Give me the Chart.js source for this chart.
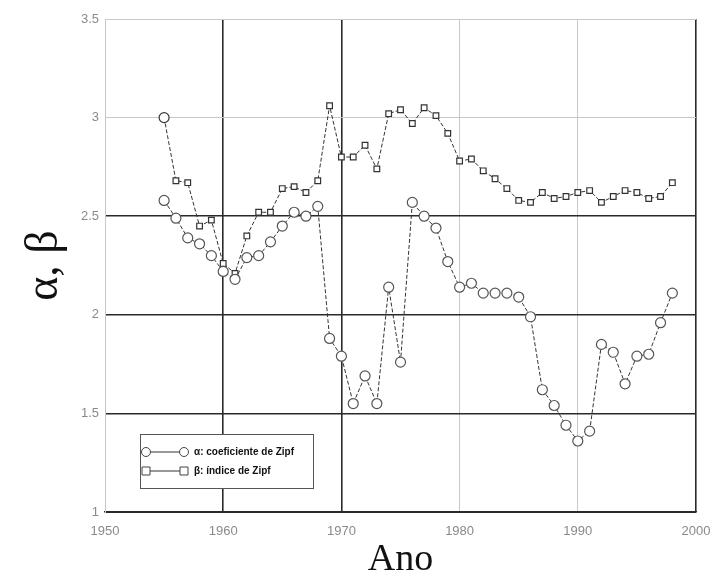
<!DOCTYPE html>
<html lang="pt">
<head>
<meta charset="utf-8">
<title>α, β por ano</title>
<script src="https://cdn.jsdelivr.net/npm/chart.js@4/dist/chart.umd.min.js"></script>
<style>
  html, body { margin: 0; padding: 0; background: #fff; }
  #wrap { width: 723px; height: 579px; position: relative; }
</style>
</head>
<body>
<div id="wrap"><canvas id="zipfChart"></canvas></div>
<script>
// anos e valores de cada série
const years = [1955, 1956, 1957, 1958, 1959, 1960, 1961, 1962, 1963, 1964,
               1965, 1966, 1967, 1968, 1969, 1970, 1971, 1972, 1973, 1974,
               1975, 1976, 1977, 1978, 1979, 1980, 1981, 1982, 1983, 1984,
               1985, 1986, 1987, 1988, 1989, 1990, 1991, 1992, 1993, 1994,
               1995, 1996, 1997, 1998];
const alphaValues = [2.58, 2.49, 2.39, 2.36, 2.30, 2.22, 2.18, 2.29, 2.30, 2.37,
                     2.45, 2.52, 2.50, 2.55, 1.88, 1.79, 1.55, 1.69, 1.55, 2.14,
                     1.76, 2.57, 2.50, 2.44, 2.27, 2.14, 2.16, 2.11, 2.11, 2.11,
                     2.09, 1.99, 1.62, 1.54, 1.44, 1.36, 1.41, 1.85, 1.81, 1.65,
                     1.79, 1.80, 1.96, 2.11];
const betaValues = [3.00, 2.68, 2.67, 2.45, 2.48, 2.26, 2.21, 2.40, 2.52, 2.52,
                    2.64, 2.65, 2.62, 2.68, 3.06, 2.80, 2.80, 2.86, 2.74, 3.02,
                    3.04, 2.97, 3.05, 3.01, 2.92, 2.78, 2.79, 2.73, 2.69, 2.64,
                    2.58, 2.57, 2.62, 2.59, 2.60, 2.62, 2.63, 2.57, 2.60, 2.63,
                    2.62, 2.59, 2.60, 2.67];
const seriesLabels = ["α: coeficiente de Zipf", "β: índice de Zipf"];
const xTicks = [1950, 1960, 1970, 1980, 1990, 2000];
const yTicks = [1, 1.5, 2, 2.5, 3, 3.5];

const DARK = '#2a2a2a';
const LIGHT = '#c8c8c8';

// legenda desenhada dentro da área do gráfico
const boxLegend = {
    id: 'boxLegend',
    afterDraw(chart) {
        const ctx = chart.ctx;
        const x0 = 140, y0 = 434, w = 173, h = 54;
        ctx.save();
        ctx.fillStyle = '#fff';
        ctx.fillRect(x0, y0, w, h);
        ctx.strokeStyle = '#555';
        ctx.lineWidth = 1;
        ctx.strokeRect(x0 + 0.5, y0 + 0.5, w, h);

        chart.data.datasets.forEach((ds, i) => {
            const y = y0 + 18 + i * 19;
            ctx.strokeStyle = '#333';
            ctx.lineWidth = 1;
            ctx.beginPath();
            ctx.moveTo(x0 + 6, y);
            ctx.lineTo(x0 + 44, y);
            ctx.stroke();
            [x0 + 6, x0 + 44].forEach(px => {
                ctx.fillStyle = '#fff';
                ctx.strokeStyle = '#444';
                ctx.beginPath();
                if (i === 0) {
                    ctx.arc(px, y, 4.5, 0, Math.PI * 2);
                } else {
                    ctx.rect(px - 4, y - 4, 8, 8);
                }
                ctx.fill();
                ctx.stroke();
            });
            ctx.fillStyle = '#111';
            ctx.font = 'bold 10px "Liberation Sans", Arial, sans-serif';
            ctx.textBaseline = 'middle';
            ctx.textAlign = 'left';
            ctx.fillText(ds.label, x0 + 54, y);
        });
        ctx.restore();
    }
};

document.addEventListener("DOMContentLoaded", () => {
    const ctx = document.getElementById('zipfChart').getContext('2d');

    const alphaPoints = years.map((yr, i) => ({ x: yr, y: alphaValues[i] }));
    const betaPoints = years.map((yr, i) => ({ x: yr, y: betaValues[i] }));

    const tickFont = { family: '"Liberation Sans", Arial, sans-serif', size: 13 };

    new Chart(ctx, {
        type: 'line',
        data: {
            datasets: [{
                label: seriesLabels[0],
                data: alphaPoints,
                borderColor: '#333',
                borderWidth: 1,
                borderDash: [4, 2],
                pointStyle: 'circle',
                pointRadius: 5,
                pointBackgroundColor: '#fff',
                pointBorderColor: '#555',
                pointBorderWidth: 1.2,
                tension: 0
            }, {
                label: seriesLabels[1],
                data: betaPoints,
                borderColor: '#333',
                borderWidth: 1,
                borderDash: [4, 2],
                // o primeiro ponto da série beta aparece como círculo
                pointStyle: c => (c.dataIndex === 0 ? 'circle' : 'rect'),
                pointRadius: c => (c.dataIndex === 0 ? 5 : 4),
                pointBackgroundColor: '#fff',
                pointBorderColor: '#333',
                pointBorderWidth: 1.2,
                tension: 0
            }]
        },
        options: {
            responsive: true,
            maintainAspectRatio: false,
            animation: false,
            layout: { padding: { top: 19, right: 27, left: 0, bottom: 0 } },
            plugins: {
                legend: { display: false },
                tooltip: { enabled: false }
            },
            scales: {
                x: {
                    type: 'linear',
                    min: 1950,
                    max: 2000,
                    afterBuildTicks: s => { s.ticks = xTicks.map(v => ({ value: v })); },
                    afterFit: s => { s.height = 67; },
                    grid: {
                        drawTicks: false,
                        color: c => (c.tick && (c.tick.value === 1960 || c.tick.value === 1970 || c.tick.value === 2000) ? DARK : LIGHT),
                        lineWidth: c => (c.tick && (c.tick.value === 1960 || c.tick.value === 1970 || c.tick.value === 2000) ? 1.6 : 1)
                    },
                    border: { color: DARK, width: 1.6 },
                    ticks: {
                        color: '#8a8a8a',
                        font: tickFont,
                        padding: 12,
                        callback: v => String(v)
                    },
                    title: {
                        display: true,
                        text: 'Ano',
                        color: '#111',
                        font: { family: '"Liberation Serif", "Times New Roman", serif', size: 38, lineHeight: 1 },
                        padding: { top: 0, bottom: 0 }
                    }
                },
                y: {
                    type: 'linear',
                    min: 1,
                    max: 3.5,
                    afterBuildTicks: s => { s.ticks = yTicks.map(v => ({ value: v })); },
                    afterFit: s => { s.width = 105; },
                    grid: {
                        drawTicks: false,
                        color: c => (c.tick && (c.tick.value === 1.5 || c.tick.value === 2 || c.tick.value === 2.5 || c.tick.value === 1) ? DARK : LIGHT),
                        lineWidth: c => (c.tick && (c.tick.value === 1.5 || c.tick.value === 2 || c.tick.value === 2.5) ? 1.6 : 1)
                    },
                    border: { color: LIGHT, width: 1 },
                    ticks: {
                        color: '#8a8a8a',
                        font: tickFont,
                        padding: 6,
                        callback: v => String(v)
                    },
                    title: {
                        display: true,
                        text: 'α, β',
                        color: '#111',
                        font: { family: '"Liberation Serif", "Times New Roman", serif', size: 46, lineHeight: 1 },
                        padding: { top: 22, bottom: 0 }
                    }
                }
            }
        },
        plugins: [boxLegend]
    });
});
</script>
</body>
</html>
